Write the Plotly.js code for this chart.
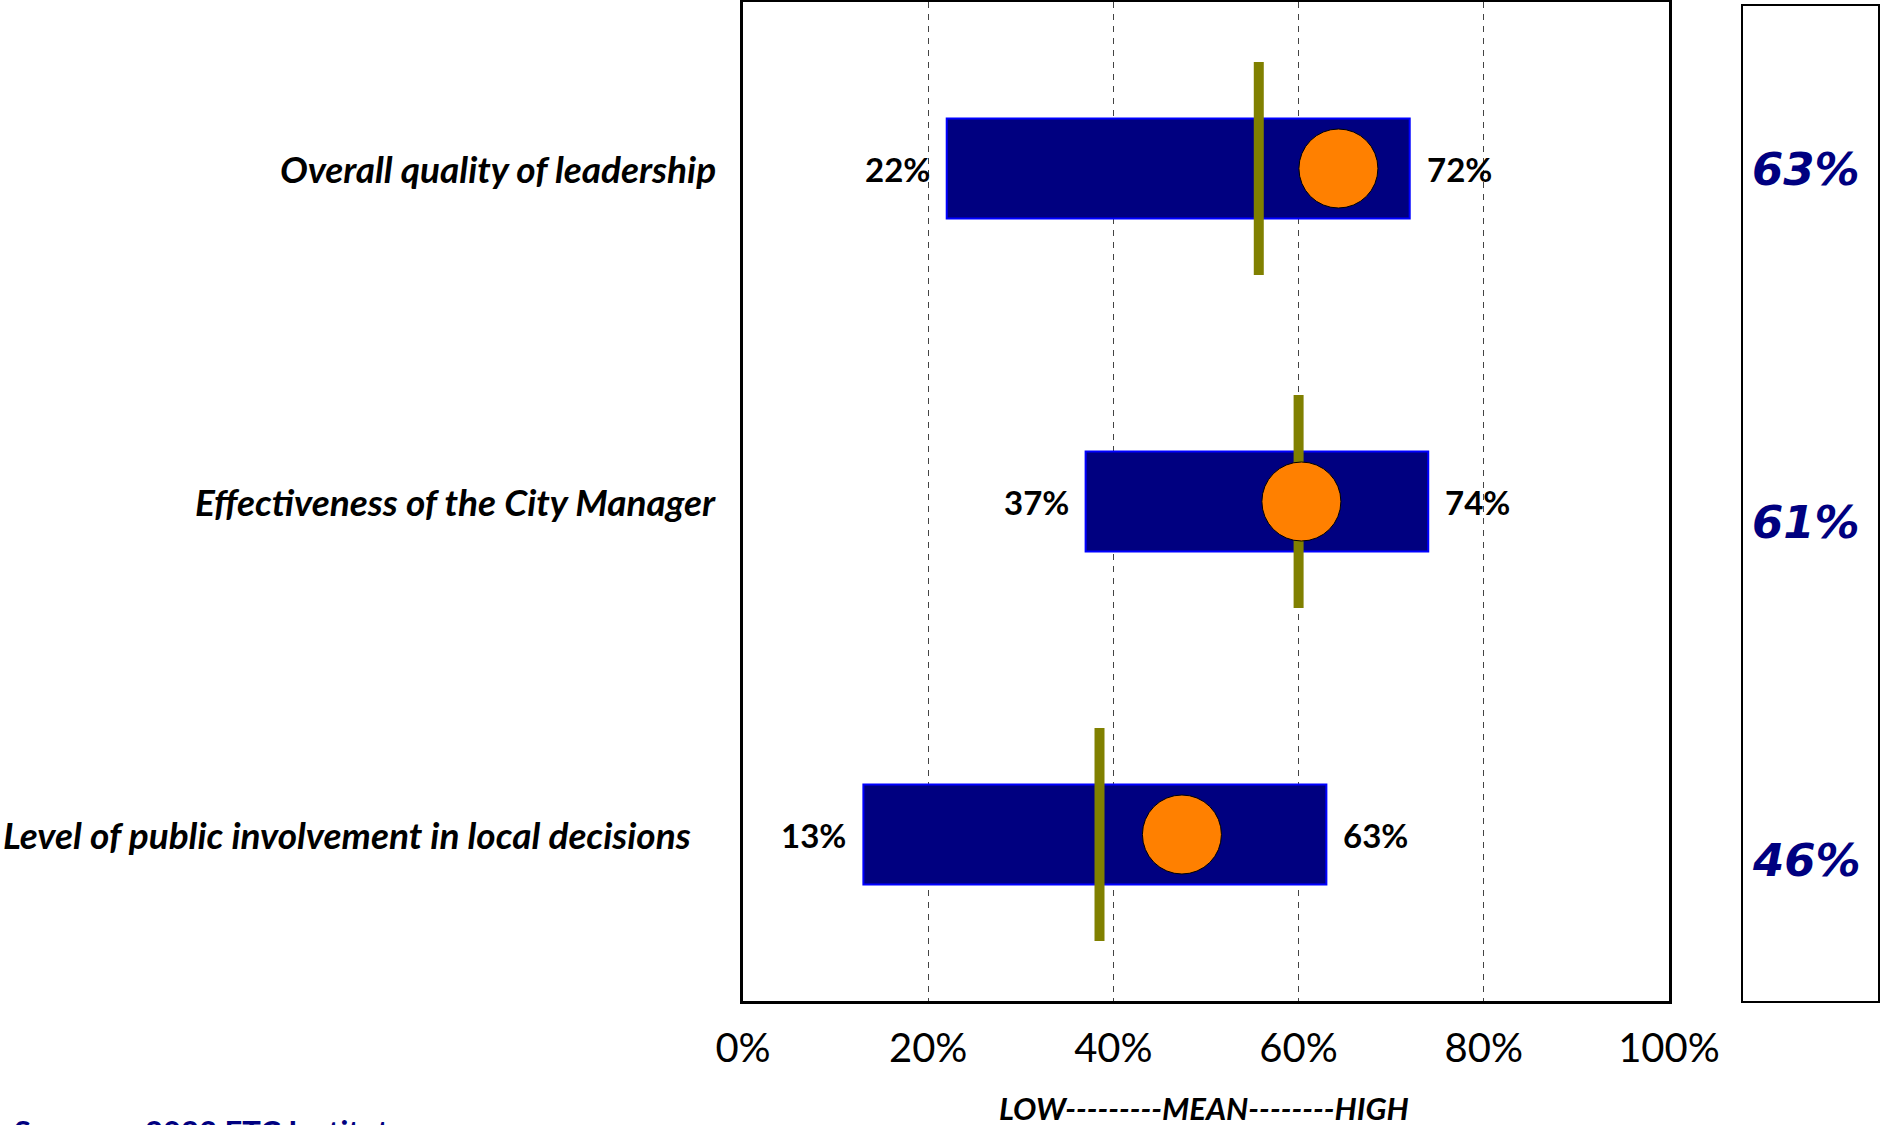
<!DOCTYPE html>
<html>
<head>
<meta charset="utf-8">
<script src="https://cdn.plot.ly/plotly-3.0.1.min.js"></script>
<style>
  html, body { margin: 0; padding: 0; background: #ffffff; }
  #chart { width: 1881px; height: 1125px; }
</style>
</head>
<body>
<div id="chart"></div>
<script>
// ---- data ----
const categories = [
  "Overall quality of leadership",
  "Effectiveness of the City Manager",
  "Level of public involvement in local decisions"
];
const lowValues  = [22, 37, 13];   // left end of range bar
const highValues = [72, 74, 63];   // right end of range bar
const meanValues = [55.7, 60, 38.5]; // olive mean marker
const cityValues = [64.3, 60.3, 47.4]; // orange circle position
const cityLabels = ["63%", "61%", "46%"]; // right-hand box
const tickValues = [0, 20, 40, 60, 80, 100];
const tickLabels = ["0%", "20%", "40%", "60%", "80%", "100%"];
const axisCaption = "LOW---------MEAN--------HIGH";
const sourceLabel = "Source:";
const sourceText = "2023 ETC Institute";

// ---- layout helpers ----
const W = 1881, H = 1125;
const L = 743, R = 1669, T = 2, B = 1001;
const px = x => (x - L) / (R - L);
const py = y => (B - y) / (B - T);
const categoryOrder = categories.slice().reverse(); // bottom to top
const FONT = "Lato, 'Open Sans', sans-serif";

const traces = [
  {
    type: "bar",
    orientation: "h",
    y: categories,
    base: lowValues,
    x: highValues.map((h, i) => h - lowValues[i]),
    width: 0.3,
    marker: { color: "#000080", line: { color: "#0000FF", width: 2 } },
    hoverinfo: "skip"
  },
  {
    type: "scatter",
    mode: "markers",
    y: categories,
    x: meanValues,
    marker: { symbol: "line-ns", size: 152, color: "#808000",
              line: { color: "#808000", width: 10 } },
    hoverinfo: "skip"
  },
  {
    type: "scatter",
    mode: "markers",
    y: categories,
    x: cityValues,
    marker: { symbol: "circle", size: 79, color: "#FF8000",
              line: { color: "#000000", width: 1 } },
    hoverinfo: "skip"
  }
];

const annotations = [];
const labelRight = [718, 718, 693];
categories.forEach((c, i) => {
  annotations.push({
    xref: "paper", yref: "y", x: px(labelRight[i]), y: c,
    xanchor: "right", yanchor: "middle", showarrow: false,
    text: c,
    font: { family: FONT, size: 37, color: "#000000", weight: "bold", style: "italic" }
  });
  annotations.push({
    xref: "x", yref: "y", x: lowValues[i], y: c, xshift: -15,
    xanchor: "right", yanchor: "middle", showarrow: false,
    text: lowValues[i] + "%",
    font: { family: FONT, size: 33, color: "#000000", weight: "bold" }
  });
  annotations.push({
    xref: "x", yref: "y", x: highValues[i], y: c, xshift: 15,
    xanchor: "left", yanchor: "middle", showarrow: false,
    text: highValues[i] + "%",
    font: { family: FONT, size: 33, color: "#000000", weight: "bold" }
  });
});
const boxY = [169, 522, 860];
cityLabels.forEach((t, i) => {
  annotations.push({
    xref: "paper", yref: "paper", x: px(1806), y: py(boxY[i]),
    xanchor: "center", yanchor: "middle", showarrow: false,
    text: t,
    font: { family: "'DejaVu Sans', Verdana, sans-serif", size: 45, color: "#000080", weight: "bold", style: "italic" }
  });
});
annotations.push({
  xref: "paper", yref: "paper", x: px(1204), y: py(1108),
  xanchor: "center", yanchor: "middle", showarrow: false,
  text: axisCaption,
  font: { family: FONT, size: 31, color: "#000000", weight: "bold", style: "italic" }
});
annotations.push({
  xref: "paper", yref: "paper", x: px(12), y: py(1110),
  xanchor: "left", yanchor: "top", showarrow: false,
  text: sourceLabel,
  font: { family: FONT, size: 31, color: "#000080", weight: "bold" }
});
annotations.push({
  xref: "paper", yref: "paper", x: px(143), y: py(1110),
  xanchor: "left", yanchor: "top", showarrow: false,
  text: sourceText,
  font: { family: FONT, size: 31, color: "#000080", weight: "bold" }
});

const layout = {
  width: W, height: H,
  margin: { l: L, r: W - R, t: T, b: H - B, pad: 0 },
  paper_bgcolor: "#ffffff",
  plot_bgcolor: "#ffffff",
  showlegend: false,
  xaxis: {
    range: [0, 100],
    tickvals: tickValues,
    ticktext: tickLabels,
    ticks: "",
    ticklabelstandoff: 10,
    tickfont: { family: FONT, size: 40, color: "#000000" },
    showgrid: true,
    gridcolor: "#444444",
    gridwidth: 1,
    griddash: "6px,6px",
    zeroline: false,
    showline: true,
    linecolor: "#000000",
    linewidth: 3,
    mirror: true,
    fixedrange: true
  },
  yaxis: {
    type: "category",
    categoryorder: "array",
    categoryarray: categoryOrder,
    range: [-0.5, 2.5],
    showticklabels: false,
    ticks: "",
    showgrid: false,
    zeroline: false,
    showline: true,
    linecolor: "#000000",
    linewidth: 3,
    mirror: true,
    fixedrange: true
  },
  shapes: [
    {
      type: "rect", xref: "paper", yref: "paper",
      x0: px(1742), x1: px(1879), y0: py(1002), y1: py(5),
      line: { color: "#000000", width: 2 }, fillcolor: "rgba(0,0,0,0)"
    }
  ],
  annotations: annotations
};

Plotly.newPlot("chart", traces, layout, { staticPlot: true, displayModeBar: false });
</script>
</body>
</html>
